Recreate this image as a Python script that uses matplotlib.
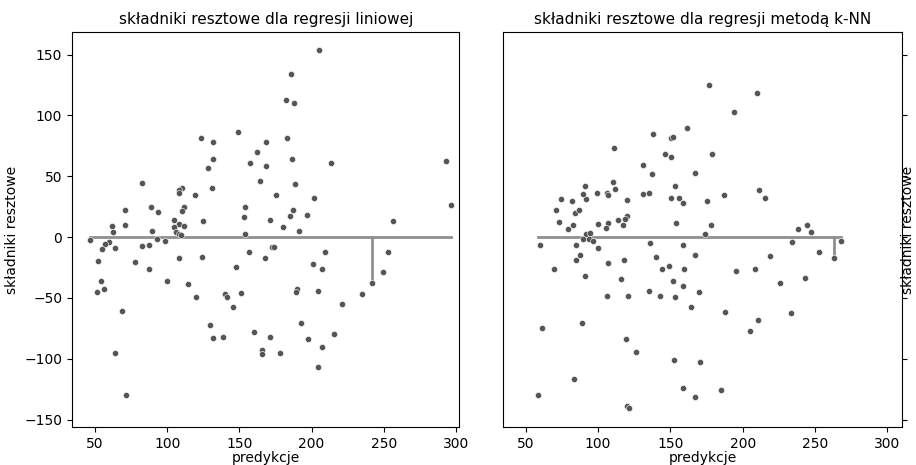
import matplotlib
matplotlib.use("Agg")
import matplotlib.pyplot as plt

# regresja liniowa: predykcje i składniki resztowe
pred_lin = [205.3, 185.6, 182.2, 187.5, 148.7, 123.7, 131.5, 183.1, 168.5, 162.5,
            131.5, 186.5, 157.3, 213.2, 293.1, 128.0, 168.5, 82.5, 164.1, 188.3,
            110.0, 108.4, 108.2, 119.5, 130.8, 175.5, 202.0, 70.5, 88.5, 93.8,
            111.8, 110.0, 153.8, 186.8, 296.6, 184.9, 196.7, 153.1, 104.9, 124.5,
            171.0, 256.2, 70.5, 62.0, 108.2, 111.8, 104.7, 180.0, 62.6, 89.3,
            106.3, 108.4, 109.5, 153.8, 191.6,
            46.5, 59.5, 57.2, 55.1, 63.6, 52.3, 54.1, 51.6, 56.0, 68.7,
            63.6, 71.2, 77.9, 82.5, 87.6, 87.6, 92.9, 98.2, 99.8, 108.4,
            114.4, 119.7, 123.8, 129.8, 131.7, 138.4, 140.0, 141.6, 145.5, 147.8,
            151.3, 156.6, 159.8, 165.8, 165.8, 167.6, 171.1, 172.5, 174.0, 177.9,
            189.6, 189.2, 192.4, 197.6, 201.1, 204.6, 207.3, 209.0, 204.6, 207.3,
            215.9, 220.9, 234.8, 242.2, 249.4, 253.1]
resid_lin = [153.3, 133.8, 112.4, 110.2, 86.7, 81.7, 78.5, 81.5, 78.5, 70.3,
             64.2, 64.1, 61.2, 61.2, 62.2, 57.1, 58.1, 44.8, 45.8, 43.8,
             40.4, 38.5, 36.3, 34.8, 40.0, 34.8, 31.8, 22.5, 24.4, 20.3,
             24.7, 21.1, 24.4, 22.5, 26.6, 17.3, 18.4, 16.2, 14.2, 13.2,
             14.2, 13.2, 10.1, 9.3, 11.0, 9.3, 8.2, 8.2, 4.0, 4.7,
             4.1, 2.7, 1.4, 2.9, 4.9,
             -2.0, -4.4, -6.0, -10.1, -9.3, -19.5, -35.9, -45.0, -43.0, -60.3,
             -95.1, -129.9, -20.6, -7.4, -6.4, -25.8, -1.4, -3.3, -35.9, -17.5,
             -38.9, -49.1, -16.4, -72.6, -82.8, -82.0, -46.9, -49.1, -57.3, -24.7,
             -46.1, -12.6, -77.9, -92.9, -96.2, -17.5, -82.0, -8.2, -8.2, -95.1,
             -43.0, -45.0, -70.7, -83.9, -21.7, -44.1, -26.6, -12.3, -106.4, -89.9,
             -79.8, -55.1, -47.1, -37.8, -28.8, -12.3]

# regresja k-NN: predykcje i składniki resztowe
pred_knn = [176.6, 210.1, 193.7, 161.2, 137.9, 150.5, 151.5, 178.9, 146.4, 150.6,
            111.3, 131.0, 137.0, 167.2, 211.0, 215.4, 187.0, 175.2, 178.2, 173.8,
            238.4, 244.4, 247.2, 153.3, 154.2, 150.6, 156.1, 158.6, 131.0, 135.3,
            110.4, 112.0, 106.3, 107.2, 119.9, 120.1, 118.3, 113.9, 117.1, 107.0,
            105.4, 99.8, 99.1, 91.5, 90.8, 89.7, 82.1, 83.9, 86.7, 74.2,
            70.8, 73.3, 79.1, 82.7, 91.5, 94.5,
            59.7, 61.3, 58.7, 69.6, 83.6, 88.7, 84.6, 87.3, 84.6, 91.0,
            89.9, 93.8, 96.6, 100.0, 106.9, 106.2, 118.0, 116.1, 120.4, 119.0,
            125.9, 119.9, 121.7, 136.0, 140.4, 143.9, 149.2, 135.1, 143.1, 151.7,
            153.3, 158.6, 159.3, 158.6, 152.6, 158.6, 167.1, 164.6, 169.7, 170.6,
            167.1, 195.5, 208.4, 218.6, 234.2, 252.9, 263.2, 267.7, 225.5, 242.8,
            187.7, 210.3, 205.0, 233.4, 185.1]
resid_knn = [124.7, 118.4, 103.0, 89.8, 84.6, 81.2, 82.6, 68.4, 68.4, 66.2,
             73.4, 59.1, 51.9, 52.7, 38.5, 32.4, 34.6, 29.4, 10.2, 2.7,
             6.9, 9.6, 4.1, 42.0, 11.8, 32.4, 32.4, 28.3, 35.7, 36.3,
             45.6, 39.6, 36.5, 34.3, 30.2, 17.0, 15.1, 13.7, 10.2, 11.8,
             7.7, 11.0, 36.3, 31.0, 41.8, 35.7, 29.4, 20.1, 22.3, 31.3,
             22.3, 12.4, 6.9, 9.6, 2.7, 3.6,
             -6.3, -74.6, -129.9, -26.6, -116.5, -70.7, -6.3, -14.5, -18.6, -31.8,
             -1.4, -1.4, -3.3, -9.3, -21.4, -48.0, -18.6, -34.8, -48.0, -83.9,
             -94.0, -138.7, -140.6, -5.2, -16.4, -25.8, -23.6, -44.1, -48.2, -35.9,
             -49.3, -6.3, -25.8, -40.0, -101.2, -123.6, -14.5, -57.3, -45.2, -102.2,
             -131.0, -27.7, -25.8, -15.4, -4.4, -12.6, -17.5, -3.3, -38.1, -34.0,
             -61.4, -67.7, -76.8, -62.5, -125.8]

# punkt, dla którego zaznaczono odcinek do zera
marked_lin = (242.2, -37.8)
marked_knn = (263.2, -17.5)


def panel(ax, pred, resid, marked, title):
    ax.plot([min(pred), max(pred)], [0, 0], color="#8f8f8f", lw=2, zorder=1)
    ax.plot([marked[0], marked[0]], [0, marked[1]], color="#8f8f8f", lw=2, zorder=1)
    ax.scatter(pred, resid, s=20, color="#555555", edgecolor="white",
               linewidth=0.4, zorder=2)
    ax.set_title(title, fontsize=11)
    ax.set_xlabel("predykcje", labelpad=0)
    ax.set_ylabel("składniki resztowe")
    ax.set_xticks([50, 100, 150, 200, 250, 300])
    ax.set_yticks([-150, -100, -50, 0, 50, 100, 150])
    ax.set_ylim(-156, 168.5)


fig = plt.figure(figsize=(9.16, 4.65), dpi=100)
ax1 = fig.add_axes([0.0786, 0.0817, 0.4230, 0.8495])
ax2 = fig.add_axes([0.5495, 0.0817, 0.4349, 0.8495])

panel(ax1, pred_lin, resid_lin, marked_lin, "składniki resztowe dla regresji liniowej")
ax1.set_xlim(34, 302.5)

panel(ax2, pred_knn, resid_knn, marked_knn, "składniki resztowe dla regresji metodą k-NN")
ax2.set_xlim(34.5, 310)
ax2.yaxis.tick_right()
ax2.yaxis.set_label_position("right")
ax2.tick_params(axis="y", labelright=False)
ax2.yaxis.labelpad = -4

fig.savefig("out.png", dpi=100)
